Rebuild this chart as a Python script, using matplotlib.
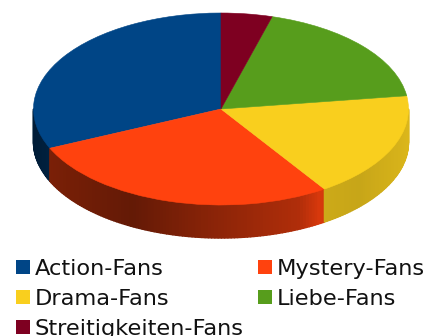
import numpy as np
import matplotlib
matplotlib.use('Agg')
import matplotlib.pyplot as plt
from matplotlib.collections import PolyCollection
from matplotlib.patches import Rectangle
from matplotlib.colors import to_rgb

# DATA:
labels = ['Action-Fans', 'Mystery-Fans', 'Drama-Fans', 'Liebe-Fans', 'Streitigkeiten-Fans']
shares = [31.7, 27.6, 17.9, 18.4, 4.4]
colors = ['#004586', '#ff420e', '#f9cf1e', '#579d1c', '#7e0021']

# wall shading along the disc, x in disc radii
shade_x = [-1.0, -0.91, -0.47, -0.11, 0.42, 0.53, 0.56, 0.74, 0.95, 1.0]
shade_f = [0.40, 0.48, 0.39, 0.52, 0.69, 0.85, 0.82, 0.80, 0.86, 0.88]

# GEOMETRY (pixels):
W, H = 438, 336
cx, cy = 221, 109
rx, ry = 187.5, 96
depth = 33 / ry

fig = plt.figure(figsize=(W / 100, H / 100), dpi=100)
ax = fig.add_axes([0, 0, 1, 1])

# top of the disc
wedges, _ = ax.pie(shares, colors=colors, startangle=90, counterclock=True, radius=1,
                   wedgeprops={'linewidth': 0.4, 'zorder': 3})
for w, c in zip(wedges, colors):
    w.set_edgecolor(c)

ax.set_aspect('auto')
ax.set_xlim(-cx / rx, (W - cx) / rx)
ax.set_ylim((cy - H) / ry, cy / ry)
ax.axis('off')

# side wall, only the front half is visible
quads = []
quad_colors = []
for w, c in zip(wedges, colors):
    t1 = max(w.theta1, 180)
    t2 = min(w.theta2, 360)
    if t2 <= t1:
        continue
    th = np.radians(np.arange(t1, t2 + 1, 1.0))
    th[-1] = np.radians(t2)
    for a, b in zip(th[:-1], th[1:]):
        quads.append([(np.cos(a), np.sin(a)), (np.cos(b), np.sin(b)),
                      (np.cos(b), np.sin(b) - depth), (np.cos(a), np.sin(a) - depth)])
        f = np.interp(np.cos((a + b) / 2), shade_x, shade_f)
        quad_colors.append(tuple(np.array(to_rgb(c)) * f))
ax.add_collection(PolyCollection(quads, facecolors=quad_colors, edgecolors=quad_colors,
                                 linewidths=1.0, zorder=2))

# LEGEND:
fx = fig.transFigure
legend_cols = [16, 16 + 242]
legend_rows = [267, 297, 327]
for i, (lab, c) in enumerate(zip(labels, colors)):
    x = legend_cols[i % 2]
    y = legend_rows[i // 2]
    fig.add_artist(Rectangle((x / W, 1 - (y + 7) / H), 14 / W, 14 / H, transform=fx,
                             facecolor=c, edgecolor='none'))
    fig.text((x + 19) / W, 1 - y / H, lab, fontsize=16.2, color='#111111',
             ha='left', va='center_baseline')

fig.savefig('out.png', dpi=100)
